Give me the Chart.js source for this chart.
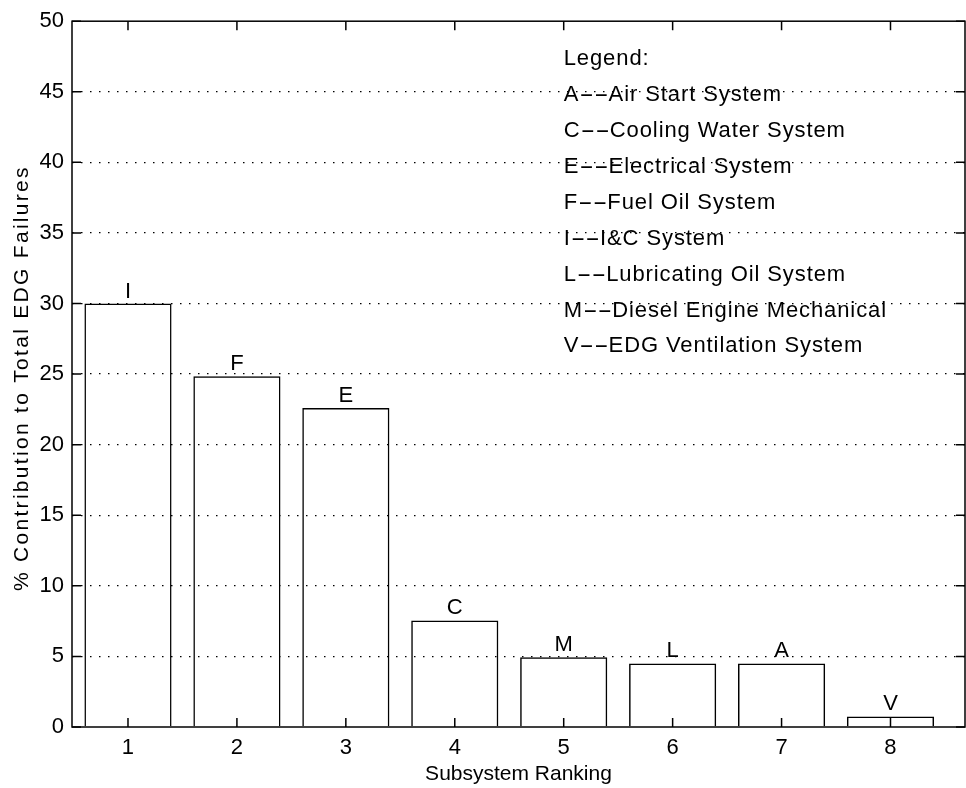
<!DOCTYPE html>
<html>
<head>
<meta charset="utf-8">
<style>
  html, body { margin: 0; padding: 0; background: #fff; }
  canvas { display: block; }
</style>
<script src="https://cdn.jsdelivr.net/npm/chart.js@4.4.1/dist/chart.umd.min.js"></script>
</head>
<body>
<canvas id="edg-chart" width="966" height="788"></canvas>
<script>
(function () {
    'use strict';

    // ranks, percentages and subsystem letters
    var ranks = [1, 2, 3, 4, 5, 6, 7, 8];
    var contributions = [30.0, 24.85, 22.6, 7.55, 4.95, 4.5, 4.5, 0.75];
    var barLetters = ['I', 'F', 'E', 'C', 'M', 'L', 'A', 'V'];
    var xTicks = [1, 2, 3, 4, 5, 6, 7, 8];
    var yTicks = [0, 5, 10, 15, 20, 25, 30, 35, 40, 45, 50];
    var legendLines = [
        'Legend:',
        'A--Air Start System',
        'C--Cooling Water System',
        'E--Electrical System',
        'F--Fuel Oil System',
        'I--I&C System',
        'L--Lubricating Oil System',
        'M--Diesel Engine Mechanical',
        'V--EDG Ventilation System'
    ];
    var yTitle = '% Contribution to Total EDG Failures';
    var xTitle = 'Subsystem Ranking';

    var FONT = "'Liberation Sans', Arial, Helvetica, sans-serif";

    var points = ranks.map(function (r, i) { return { x: r, y: contributions[i] }; });

    // box, inward ticks, bar letters, legend text and rotated y title
    var matlabLook = {
        id: 'matlabLook',
        afterDraw: function (chart) {
            var ctx = chart.ctx;
            var a = chart.chartArea;
            var xs = chart.scales.x;
            var ys = chart.scales.y;
            var tick = 9;

            ctx.save();
            ctx.strokeStyle = '#000';
            ctx.lineWidth = 1.5;
            ctx.strokeRect(a.left, a.top, a.right - a.left, a.bottom - a.top);

            ctx.beginPath();
            xTicks.forEach(function (v) {
                var px = xs.getPixelForValue(v);
                ctx.moveTo(px, a.bottom); ctx.lineTo(px, a.bottom - tick);
                ctx.moveTo(px, a.top); ctx.lineTo(px, a.top + tick);
            });
            yTicks.forEach(function (v) {
                var py = ys.getPixelForValue(v);
                ctx.moveTo(a.left, py); ctx.lineTo(a.left + tick, py);
                ctx.moveTo(a.right, py); ctx.lineTo(a.right - tick, py);
            });
            ctx.stroke();

            ctx.fillStyle = '#000';
            ctx.font = '22px ' + FONT;
            ctx.textAlign = 'center';
            ctx.textBaseline = 'alphabetic';
            chart.getDatasetMeta(0).data.forEach(function (bar, i) {
                ctx.fillText(barLetters[i], bar.x, bar.y - 6);
            });

            // legend text: letter, stretched double dash, then the name
            ctx.textAlign = 'left';
            ctx.font = '22px ' + FONT;
            var lx = xs.getPixelForValue(5.0);
            legendLines.forEach(function (line, i) {
                var y = a.top + 44 + i * 35.9;
                var parts = line.split('--');
                ctx.letterSpacing = '0.9px';
                if (parts.length < 2) {
                    ctx.fillText(line, lx, y);
                    return;
                }
                var x = lx;
                ctx.fillText(parts[0], x, y);
                x += ctx.measureText(parts[0]).width;
                ctx.letterSpacing = '0px';
                var dw = ctx.measureText('--').width;
                ctx.save();
                ctx.translate(x, y);
                ctx.scale(2.0, 1);
                ctx.fillText('--', 0, 0);
                ctx.restore();
                x += dw * 2.0;
                ctx.letterSpacing = '0.9px';
                ctx.fillText(parts[1], x, y);
            });

            ctx.font = '21px ' + FONT;
            ctx.letterSpacing = '2.3px';
            ctx.textAlign = 'center';
            ctx.textBaseline = 'middle';
            ctx.translate(22, (a.top + a.bottom) / 2 + 4);
            ctx.rotate(-Math.PI / 2);
            ctx.fillText(yTitle, 0, 0);
            ctx.restore();
        }
    };

    new Chart(document.getElementById('edg-chart'), {
        type: 'bar',
        data: {
            datasets: [{
                data: points,
                backgroundColor: 'rgba(0,0,0,0)',
                borderColor: '#000',
                borderWidth: 1.5,
                barPercentage: 0.8,
                categoryPercentage: 1
            }]
        },
        options: {
            responsive: false,
            devicePixelRatio: 1,
            animation: false,
            layout: { padding: { top: 16, right: 1, left: 0, bottom: 0 } },
            plugins: {
                legend: { display: false },
                tooltip: { enabled: false }
            },
            scales: {
                x: {
                    type: 'linear',
                    offset: false,
                    min: 0.486,
                    max: 8.684,
                    afterFit: function (s) { s.height = 61; },
                    afterBuildTicks: function (s) {
                        s.ticks = xTicks.map(function (v) { return { value: v }; });
                    },
                    grid: { display: false, offset: false },
                    border: { display: false },
                    ticks: {
                        color: '#000',
                        font: { family: FONT, size: 22 },
                        padding: 0,
                        maxRotation: 0,
                        autoSkip: false
                    },
                    title: {
                        display: true,
                        text: xTitle,
                        color: '#000',
                        font: { family: FONT, size: 21 },
                        padding: { top: 0, bottom: 1 }
                    }
                },
                y: {
                    min: 0,
                    max: 50,
                    afterFit: function (s) { s.width = 72; },
                    afterBuildTicks: function (s) {
                        s.ticks = yTicks.map(function (v) { return { value: v }; });
                    },
                    grid: {
                        drawTicks: false,
                        lineWidth: 1.3,
                        color: function (c) {
                            var v = c.tick ? c.tick.value : null;
                            return (v === 0 || v === 50) ? 'rgba(0,0,0,0)' : '#000';
                        }
                    },
                    border: { display: false, dash: [1.5, 7.5] },
                    ticks: {
                        color: '#000',
                        font: { family: FONT, size: 22 },
                        padding: 8
                    }
                }
            }
        },
        plugins: [matlabLook]
    });
})();
</script>
</body>
</html>
